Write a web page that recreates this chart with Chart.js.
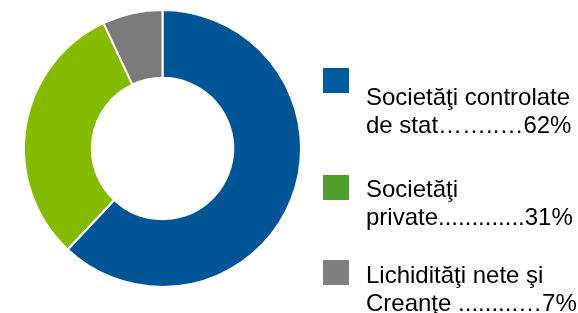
<!DOCTYPE html>
<html>
<head>
<meta charset="utf-8">
<script src="https://cdn.jsdelivr.net/npm/chart.js@4"></script>
<style>
  html, body { margin: 0; padding: 0; background: #fff; }
  #wrap { width: 578px; height: 313px; }
</style>
</head>
<body>
<div id="wrap"><canvas id="chart" width="578" height="313"></canvas></div>
<script>
// data
const categories = ['Societăţi controlate de stat', 'Societăţi private', 'Lichidităţi nete şi Creanţe'];
const shares = [62, 31, 7];
const legendLines = [
    ['Societăţi controlate', 'de stat……..…62%'],
    ['Societăţi', 'private.............31%'],
    ['Lichidităţi nete şi', 'Creanţe .........…7%']
];
const sliceColors = ['#005596', '#84bb00', '#7b7b7b'];
const swatchColors = ['#005a9c', '#4f9f2f', '#7f7f7f'];

// legend layout: swatch top and first baseline of each entry
const legendSlots = [
    { swatchY: 68, textY: 105 },
    { swatchY: 175, textY: 197 },
    { swatchY: 260, textY: 283 }
];

const sideLegend = {
    id: 'sideLegend',
    afterDraw(chart) {
        const ctx = chart.ctx;
        ctx.save();
        ctx.font = '24px "Liberation Sans", Arial, sans-serif';
        ctx.textBaseline = 'alphabetic';
        legendLines.forEach((lines, i) => {
            const slot = legendSlots[i];
            ctx.fillStyle = swatchColors[i];
            ctx.fillRect(323, slot.swatchY, 26, 25);
            ctx.fillStyle = '#000';
            lines.forEach((line, j) => {
                ctx.fillText(line, 366, slot.textY + j * 27.5);
            });
        });
        ctx.restore();
    }
};

new Chart(document.getElementById('chart'), {
    type: 'doughnut',
    data: {
        labels: categories,
        datasets: [{
            data: shares,
            backgroundColor: sliceColors,
            borderColor: '#ffffff',
            borderWidth: 2
        }]
    },
    options: {
        responsive: false,
        animation: false,
        cutout: '51%',
        layout: { padding: { left: 23, right: 276, top: 9, bottom: 25 } },
        plugins: {
            legend: { display: false },
            tooltip: { enabled: false }
        },
        events: []
    },
    plugins: [sideLegend]
});
</script>
</body>
</html>
